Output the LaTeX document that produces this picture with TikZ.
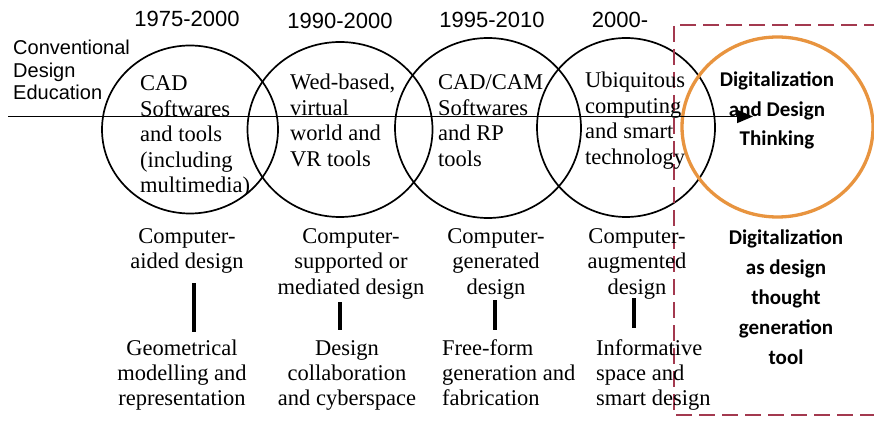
\documentclass[tikz,border=0pt]{standalone}
\usepackage{fontspec}
\setmainfont{Liberation Serif}
\newfontfamily\arialfont{Liberation Sans}
\newfontfamily\calibfont{Carlito}
\usetikzlibrary{shapes.geometric,arrows.meta}
\definecolor{ringorange}{HTML}{E8943F}
\definecolor{framered}{HTML}{A3394F}

\begin{document}
\begin{tikzpicture}[x=1pt,y=-1pt,
  era/.style={ellipse,draw=black,line width=1.7pt,inner sep=0pt},
  futurering/.style={ellipse,draw=ringorange,line width=3.3pt,inner sep=0pt},
  yearlabel/.style={font=\arialfont\fontsize{22}{26}\selectfont,anchor=base,inner sep=0pt},
  sidelabel/.style={font=\arialfont\fontsize{20}{22.5}\selectfont,anchor=base west,align=left,inner sep=0pt},
  eratext/.style={font=\fontsize{22.5}{25.5}\selectfont,anchor=base west,align=left,inner sep=0pt},
  modetext/.style={font=\fontsize{22.5}{25.5}\selectfont,anchor=base,align=center,inner sep=0pt},
  subtext/.style={font=\fontsize{22.5}{25}\selectfont,anchor=base,align=center,inner sep=0pt},
  subtextleft/.style={font=\fontsize{22.5}{25}\selectfont,anchor=base west,align=left,inner sep=0pt},
  boldtext/.style={font=\calibfont\bfseries\fontsize{21}{29.8}\selectfont,anchor=base,align=center,inner sep=0pt},
  linkbar/.style={line width=3.4pt},
  timeline/.style={line width=1.7pt,-{Triangle[length=16pt,width=13pt]}},
  frame/.style={draw=framered,line width=2.2pt,dash pattern=on 16pt off 7pt}
]
\useasboundingbox (0,0) rectangle (874,430);
\fill[white] (0,0) rectangle (874,430);

% era circles
\node[era,minimum width=176pt,minimum height=168pt] (c1) at (190,129.5) {};
\node[era,minimum width=185pt,minimum height=175pt] (c2) at (340,129.5) {};
\node[era,minimum width=186pt,minimum height=180pt] (c3) at (488,128) {};
\node[era,minimum width=178pt,minimum height=179pt] (c4) at (626,127.5) {};
\node[futurering,minimum width=191pt,minimum height=180pt] (c5) at (777.5,127) {};

% timeline
\coordinate (tstart) at (8,116.5);
\coordinate (tend) at (753,116.5);
\draw[timeline] (tstart) -- (tend);

% dashed frame around the future stage
\coordinate (fa) at (880,25);
\coordinate (fb) at (674,25);
\coordinate (fc) at (674,415);
\coordinate (fd) at (880,415);
\draw[frame] (fa) -- (fb) -- (fc) -- (fd);

% years
\node[yearlabel] (y1) at (187,27) {1975-2000};
\node[yearlabel] (y2) at (340,29) {1990-2000};
\node[yearlabel] (y3) at (492,28) {1995-2010};
\node[yearlabel] (y4) at (620,28) {2000-};

% multi-line nodes are placed by the baseline of their last line
\node[sidelabel] (conv) at (13,100) {Conventional\\Design\\Education};

% circle contents
\node[eratext] (e1) at (140,193) {CAD\\Softwares\\and tools\\(including\\multimedia)};
\node[eratext] (e2) at (290,166.5) {Wed-based,\\virtual\\world and\\VR tools};
\node[eratext] (e3) at (438,166.5) {CAD/CAM\\Softwares\\and RP\\tools};
\node[eratext] (e4) at (585,164.5) {Ubiquitous\\computing\\and smart\\technology};
\node[boldtext] (e5) at (777,146) {Digitalization\\and Design\\Thinking};

% design modes
\node[modetext] (m1) at (187,268.5) {Computer-\\aided design};
\node[modetext] (m2) at (351,294) {Computer-\\supported or\\mediated design};
\node[modetext] (m3) at (496,294) {Computer-\\generated\\design};
\node[modetext] (m4) at (637,294) {Computer-\\augmented\\design};
\node[boldtext] (m5) at (786,364) {Digitalization\\as design\\thought\\generation\\tool};

% outcomes
\node[subtext] (s1) at (182,405) {Geometrical\\modelling and\\representation};
\node[subtext] (s2) at (347,405) {Design\\collaboration\\and cyberspace};
\node[subtextleft] (s3) at (442,405) {Free-form\\generation and\\fabrication};
\node[subtextleft] (s4) at (596,405) {Informative\\space and\\smart design};

% links between modes and outcomes
\coordinate (b1t) at (194,283); \coordinate (b1b) at (194,332);
\coordinate (b2t) at (340,302); \coordinate (b2b) at (340,330);
\coordinate (b3t) at (495,300); \coordinate (b3b) at (495,330);
\coordinate (b4t) at (634,298); \coordinate (b4b) at (634,328);
\draw[linkbar] (b1t) -- (b1b);
\draw[linkbar] (b2t) -- (b2b);
\draw[linkbar] (b3t) -- (b3b);
\draw[linkbar] (b4t) -- (b4b);
\end{tikzpicture}
\end{document}
